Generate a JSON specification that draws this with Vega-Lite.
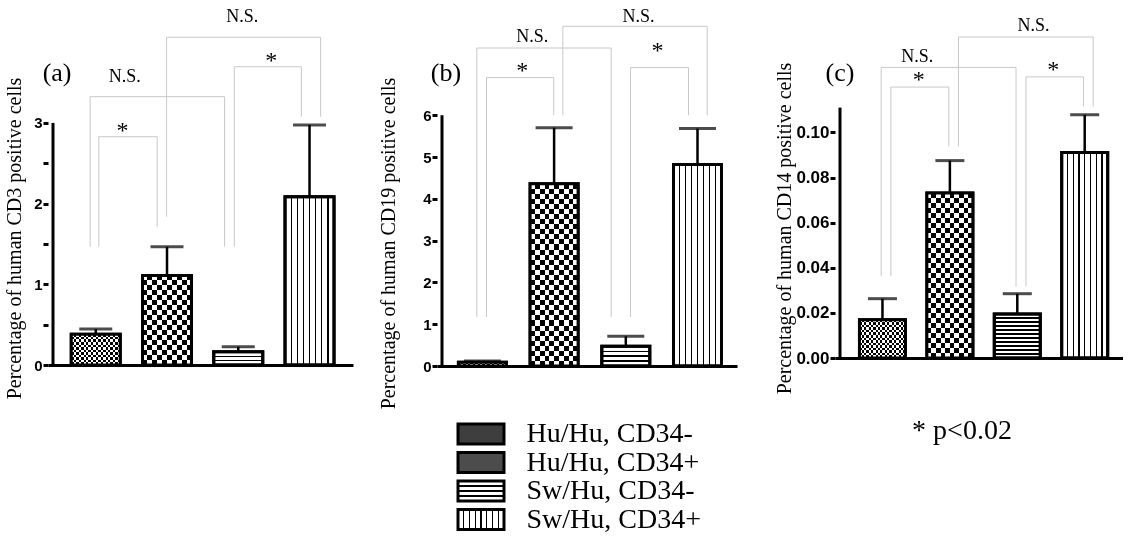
{
"$schema": "https://vega.github.io/schema/vega-lite/v6.json",
"padding": {"left": 4, "top": 0, "right": 0, "bottom": 0},
"config": {"view": {"stroke": null}, "axis": {"grid": false}},
"datasets": {
 "bars_a": [
  {"group":"Hu/Hu, CD34-","pos":1,"mean":0.38,"upper":0.445},
  {"group":"Hu/Hu, CD34+","pos":2,"mean":1.11,"upper":1.465},
  {"group":"Sw/Hu, CD34-","pos":3,"mean":0.165,"upper":0.227},
  {"group":"Sw/Hu, CD34+","pos":4,"mean":2.085,"upper":2.975}],
 "br_a": [
  {"label":"*","x1":1.043,"x2":1.862,"top":2.829,"yl":1.466,"yr":1.714,"lx":1.377,"ly":2.813},
  {"label":"N.S.","x1":0.921,"x2":2.808,"top":3.325,"yl":1.466,"yr":1.466,"lx":1.407,"ly":3.511},
  {"label":"N.S.","x1":1.994,"x2":4.156,"top":4.061,"yl":1.838,"yr":3.077,"lx":3.056,"ly":4.254},
  {"label":"*","x1":2.944,"x2":3.885,"top":3.696,"yl":1.466,"yr":3.077,"lx":3.464,"ly":3.68}],
 "bars_b": [
  {"group":"Hu/Hu, CD34-","pos":1,"mean":0.09,"upper":0.12},
  {"group":"Hu/Hu, CD34+","pos":2,"mean":4.36,"upper":5.7},
  {"group":"Sw/Hu, CD34-","pos":3,"mean":0.475,"upper":0.71},
  {"group":"Sw/Hu, CD34+","pos":4,"mean":4.82,"upper":5.68}],
 "br_b": [
  {"label":"*","x1":1.057,"x2":1.995,"top":6.9,"yl":1.172,"yr":5.998,"lx":1.555,"ly":6.89},
  {"label":"N.S.","x1":0.922,"x2":2.796,"top":7.608,"yl":1.172,"yr":1.172,"lx":1.694,"ly":7.751},
  {"label":"N.S.","x1":2.122,"x2":4.135,"top":8.127,"yl":5.998,"yr":5.998,"lx":3.177,"ly":8.23},
  {"label":"*","x1":3.066,"x2":3.875,"top":7.139,"yl":1.172,"yr":5.998,"lx":3.443,"ly":7.361}],
 "bars_c": [
  {"group":"Hu/Hu, CD34-","pos":1,"mean":0.017,"upper":0.0263},
  {"group":"Hu/Hu, CD34+","pos":2,"mean":0.0731,"upper":0.0875},
  {"group":"Sw/Hu, CD34-","pos":3,"mean":0.0195,"upper":0.0285},
  {"group":"Sw/Hu, CD34+","pos":4,"mean":0.0911,"upper":0.1078}],
 "br_c": [
  {"label":"*","x1":1.125,"x2":1.984,"top":0.1201,"yl":0.0362,"yr":0.0938,"lx":1.54,"ly":0.11995},
  {"label":"N.S.","x1":0.981,"x2":2.981,"top":0.1288,"yl":0.0362,"yr":0.0317,"lx":1.516,"ly":0.131},
  {"label":"N.S.","x1":2.127,"x2":4.126,"top":0.1423,"yl":0.0938,"yr":0.1115,"lx":3.241,"ly":0.1448},
  {"label":"*","x1":3.129,"x2":3.983,"top":0.1246,"yl":0.0317,"yr":0.1115,"lx":3.535,"ly":0.1244}],
 "tag_a": [{"tag":"(a)","lx":0.457,"ly":3.519}],
 "tag_b": [{"tag":"(b)","lx":0.492,"ly":6.818}],
 "tag_c": [{"tag":"(c)","lx":0.37,"ly":0.1229}]
},
"resolve": {"scale": {"fill": "independent"}, "legend": {"fill": "independent"}},
"spacing": 25,
"hconcat": [
 {
  "width": 305, "height": 365,
  "layer": [
   {"data": {"name": "br_a"}, "mark": {"type": "rule", "color": "#c8c8c8", "strokeWidth": 1},
    "encoding": {"x": {"field": "x1", "type": "quantitative"}, "y": {"field": "yl", "type": "quantitative"}, "y2": {"field": "top"}}},
   {"data": {"name": "br_a"}, "mark": {"type": "rule", "color": "#c8c8c8", "strokeWidth": 1},
    "encoding": {"x": {"field": "x2", "type": "quantitative"}, "y": {"field": "yr", "type": "quantitative"}, "y2": {"field": "top"}}},
   {"data": {"name": "br_a"}, "mark": {"type": "rule", "color": "#c8c8c8", "strokeWidth": 1},
    "encoding": {"x": {"field": "x1", "type": "quantitative"}, "x2": {"field": "x2"}, "y": {"field": "top", "type": "quantitative"}}},
   {"data": {"name": "bars_a"},
    "mark": {"type": "bar", "orient": "vertical", "width": 49, "stroke": "black", "strokeWidth": 3},
    "encoding": {
     "x": {"field": "pos", "type": "quantitative", "scale": {"domain": [0.4, 4.54], "nice": false, "zero": false},
           "axis": {"labels": false, "ticks": false, "title": null, "domainColor": "black", "domainWidth": 3, "grid": false}},
     "y": {"field": "mean", "type": "quantitative", "stack": null, "scale": {"domain": [0, 4.523], "nice": false},
           "axis": {"values": [0, 0.5, 1, 1.5, 2, 2.5, 3], "labelExpr": "datum.value % 1 === 0 ? format(datum.value, 'd') : ''",
                    "domain": false, "grid": false, "tickColor": "black", "tickWidth": 3, "tickSize": 5,
                    "labelFont": "Liberation Sans", "labelFontWeight": "bold", "labelFontSize": 15, "labelColor": "black", "labelPadding": 1,
                    "title": "Percentage of human CD3 positive cells", "titleFont": "Liberation Serif", "titleFontSize": 20,
                    "titleFontWeight": "normal", "titleColor": "black", "titleX": -34, "titleY": 238, "titleAngle": -90,
                    "titleBaseline": "middle", "titleAlign": "center"}},
     "fill": {"field": "group", "type": "nominal", "legend": null,
              "scale": {"domain": ["Hu/Hu, CD34-", "Hu/Hu, CD34+", "Sw/Hu, CD34-", "Sw/Hu, CD34+"],
                        "range": ["#555", "#666",
                         {"expr": "{gradient:'linear',x1:0,y1:0,x2:0,y2:1,stops:[{offset:0,color:'#fff'},{offset:0.288,color:'#fff'},{offset:0.288,color:'#000'},{offset:0.378,color:'#000'},{offset:0.378,color:'#fff'},{offset:0.622,color:'#fff'},{offset:0.622,color:'#000'},{offset:0.712,color:'#000'},{offset:0.712,color:'#fff'},{offset:1,color:'#fff'}]}"},
                         {"expr": "{gradient:'linear',x1:0,y1:0,x2:1,y2:0,stops:[{offset:0,color:'#fff'},{offset:0.112,color:'#fff'},{offset:0.112,color:'#000'},{offset:0.138,color:'#000'},{offset:0.138,color:'#fff'},{offset:0.237,color:'#fff'},{offset:0.237,color:'#000'},{offset:0.263,color:'#000'},{offset:0.263,color:'#fff'},{offset:0.362,color:'#fff'},{offset:0.362,color:'#000'},{offset:0.388,color:'#000'},{offset:0.388,color:'#fff'},{offset:0.487,color:'#fff'},{offset:0.487,color:'#000'},{offset:0.513,color:'#000'},{offset:0.513,color:'#fff'},{offset:0.612,color:'#fff'},{offset:0.612,color:'#000'},{offset:0.638,color:'#000'},{offset:0.638,color:'#fff'},{offset:0.737,color:'#fff'},{offset:0.737,color:'#000'},{offset:0.763,color:'#000'},{offset:0.763,color:'#fff'},{offset:0.862,color:'#fff'},{offset:0.862,color:'#000'},{offset:0.888,color:'#000'},{offset:0.888,color:'#fff'},{offset:1,color:'#fff'}]}"}]}}
    }},
   {"data": {"name": "bars_a"}, "transform": [{"filter": "datum.group === 'Hu/Hu, CD34-'"}],
    "mark": {"type": "bar", "orient": "vertical", "width": 49,
             "fill": {"gradient":"linear","x1":0,"y1":0,"x2":1,"y2":0,"stops":[{"offset":0,"color":"#000"},{"offset":0.05,"color":"#000"},{"offset":0.05,"color":"#fff"},{"offset":0.1,"color":"#fff"},{"offset":0.1,"color":"#000"},{"offset":0.15,"color":"#000"},{"offset":0.15,"color":"#fff"},{"offset":0.2,"color":"#fff"},{"offset":0.2,"color":"#000"},{"offset":0.25,"color":"#000"},{"offset":0.25,"color":"#fff"},{"offset":0.3,"color":"#fff"},{"offset":0.3,"color":"#000"},{"offset":0.35,"color":"#000"},{"offset":0.35,"color":"#fff"},{"offset":0.4,"color":"#fff"},{"offset":0.4,"color":"#000"},{"offset":0.45,"color":"#000"},{"offset":0.45,"color":"#fff"},{"offset":0.5,"color":"#fff"},{"offset":0.5,"color":"#000"},{"offset":0.55,"color":"#000"},{"offset":0.55,"color":"#fff"},{"offset":0.6,"color":"#fff"},{"offset":0.6,"color":"#000"},{"offset":0.65,"color":"#000"},{"offset":0.65,"color":"#fff"},{"offset":0.7,"color":"#fff"},{"offset":0.7,"color":"#000"},{"offset":0.75,"color":"#000"},{"offset":0.75,"color":"#fff"},{"offset":0.8,"color":"#fff"},{"offset":0.8,"color":"#000"},{"offset":0.85,"color":"#000"},{"offset":0.85,"color":"#fff"},{"offset":0.9,"color":"#fff"},{"offset":0.9,"color":"#000"},{"offset":0.95,"color":"#000"},{"offset":0.95,"color":"#fff"},{"offset":1,"color":"#fff"}]}},
    "encoding": {"x": {"field": "pos", "type": "quantitative"}, "y": {"field": "mean", "type": "quantitative"}}},
   {"data": {"name": "bars_a"}, "transform": [{"filter": "datum.group === 'Hu/Hu, CD34-'"}],
    "mark": {"type": "bar", "orient": "vertical", "width": 49, "blend": "difference",
             "fill": {"gradient":"linear","x1":0,"y1":0,"x2":0,"y2":1,"stops":[{"offset":0,"color":"#fff"},{"offset":0.0833,"color":"#fff"},{"offset":0.0833,"color":"#000"},{"offset":0.1667,"color":"#000"},{"offset":0.1667,"color":"#fff"},{"offset":0.25,"color":"#fff"},{"offset":0.25,"color":"#000"},{"offset":0.3333,"color":"#000"},{"offset":0.3333,"color":"#fff"},{"offset":0.4167,"color":"#fff"},{"offset":0.4167,"color":"#000"},{"offset":0.5,"color":"#000"},{"offset":0.5,"color":"#fff"},{"offset":0.5833,"color":"#fff"},{"offset":0.5833,"color":"#000"},{"offset":0.6667,"color":"#000"},{"offset":0.6667,"color":"#fff"},{"offset":0.75,"color":"#fff"},{"offset":0.75,"color":"#000"},{"offset":0.8333,"color":"#000"},{"offset":0.8333,"color":"#fff"},{"offset":0.9167,"color":"#fff"},{"offset":0.9167,"color":"#000"},{"offset":1,"color":"#000"}]}},
    "encoding": {"x": {"field": "pos", "type": "quantitative"}, "y": {"field": "mean", "type": "quantitative"}}},
   {"data": {"name": "bars_a"}, "transform": [{"filter": "datum.group === 'Hu/Hu, CD34+'"}],
    "mark": {"type": "bar", "orient": "vertical", "width": 49,
             "fill": {"gradient":"linear","x1":0,"y1":0,"x2":1,"y2":0,"stops":[{"offset":0,"color":"#000"},{"offset":0.1,"color":"#000"},{"offset":0.1,"color":"#fff"},{"offset":0.2,"color":"#fff"},{"offset":0.2,"color":"#000"},{"offset":0.3,"color":"#000"},{"offset":0.3,"color":"#fff"},{"offset":0.4,"color":"#fff"},{"offset":0.4,"color":"#000"},{"offset":0.5,"color":"#000"},{"offset":0.5,"color":"#fff"},{"offset":0.6,"color":"#fff"},{"offset":0.6,"color":"#000"},{"offset":0.7,"color":"#000"},{"offset":0.7,"color":"#fff"},{"offset":0.8,"color":"#fff"},{"offset":0.8,"color":"#000"},{"offset":0.9,"color":"#000"},{"offset":0.9,"color":"#fff"},{"offset":1,"color":"#fff"}]}},
    "encoding": {"x": {"field": "pos", "type": "quantitative"}, "y": {"field": "mean", "type": "quantitative"}}},
   {"data": {"name": "bars_a"}, "transform": [{"filter": "datum.group === 'Hu/Hu, CD34+'"}],
    "mark": {"type": "bar", "orient": "vertical", "width": 49, "blend": "difference",
             "fill": {"gradient":"linear","x1":0,"y1":0,"x2":0,"y2":1,"stops":[{"offset":0,"color":"#fff"},{"offset":0.0556,"color":"#fff"},{"offset":0.0556,"color":"#000"},{"offset":0.1111,"color":"#000"},{"offset":0.1111,"color":"#fff"},{"offset":0.1667,"color":"#fff"},{"offset":0.1667,"color":"#000"},{"offset":0.2222,"color":"#000"},{"offset":0.2222,"color":"#fff"},{"offset":0.2778,"color":"#fff"},{"offset":0.2778,"color":"#000"},{"offset":0.3333,"color":"#000"},{"offset":0.3333,"color":"#fff"},{"offset":0.3889,"color":"#fff"},{"offset":0.3889,"color":"#000"},{"offset":0.4444,"color":"#000"},{"offset":0.4444,"color":"#fff"},{"offset":0.5,"color":"#fff"},{"offset":0.5,"color":"#000"},{"offset":0.5556,"color":"#000"},{"offset":0.5556,"color":"#fff"},{"offset":0.6111,"color":"#fff"},{"offset":0.6111,"color":"#000"},{"offset":0.6667,"color":"#000"},{"offset":0.6667,"color":"#fff"},{"offset":0.7222,"color":"#fff"},{"offset":0.7222,"color":"#000"},{"offset":0.7778,"color":"#000"},{"offset":0.7778,"color":"#fff"},{"offset":0.8333,"color":"#fff"},{"offset":0.8333,"color":"#000"},{"offset":0.8889,"color":"#000"},{"offset":0.8889,"color":"#fff"},{"offset":0.9444,"color":"#fff"},{"offset":0.9444,"color":"#000"},{"offset":1,"color":"#000"}]}},
    "encoding": {"x": {"field": "pos", "type": "quantitative"}, "y": {"field": "mean", "type": "quantitative"}}},
   {"data": {"name": "bars_a"}, "mark": {"type": "rule", "color": "black", "strokeWidth": 2.5},
    "encoding": {"x": {"field": "pos", "type": "quantitative"}, "y": {"field": "mean", "type": "quantitative"}, "y2": {"field": "upper"}}},
   {"data": {"name": "bars_a"}, "mark": {"type": "tick", "orient": "horizontal", "color": "black", "size": 33, "thickness": 3},
    "encoding": {"x": {"field": "pos", "type": "quantitative"}, "y": {"field": "upper", "type": "quantitative"}}},
   {"data": {"name": "bars_a"}, "mark": {"type": "bar", "orient": "vertical", "width": 49, "fillOpacity": 0, "stroke": "black", "strokeWidth": 3},
    "encoding": {"x": {"field": "pos", "type": "quantitative"}, "y": {"field": "mean", "type": "quantitative"}}},
   {"data": {"values": [{}]}, "mark": {"type": "rule", "color": "black", "strokeWidth": 3},
    "encoding": {"x": {"datum": 0.4}, "y": {"datum": 0}, "y2": {"datum": 3}}},
   {"data": {"name": "br_a"}, "transform": [{"filter": "datum.label === 'N.S.'"}],
    "mark": {"type": "text", "font": "Liberation Serif", "fontSize": 18, "color": "black", "align": "center", "baseline": "alphabetic"},
    "encoding": {"x": {"field": "lx", "type": "quantitative"}, "y": {"field": "ly", "type": "quantitative"}, "text": {"field": "label"}}},
   {"data": {"name": "br_a"}, "transform": [{"filter": "datum.label === '*'"}],
    "mark": {"type": "text", "font": "Liberation Serif", "fontSize": 24, "color": "black", "align": "center", "baseline": "alphabetic"},
    "encoding": {"x": {"field": "lx", "type": "quantitative"}, "y": {"field": "ly", "type": "quantitative"}, "text": {"field": "label"}}},
   {"data": {"name": "tag_a"},
    "mark": {"type": "text", "font": "Liberation Serif", "fontSize": 26, "color": "black", "align": "center", "baseline": "alphabetic"},
    "encoding": {"x": {"field": "lx", "type": "quantitative"}, "y": {"field": "ly", "type": "quantitative"}, "text": {"field": "tag"}}}
  ]
 },
 {
  "spacing": 37,
  "resolve": {"scale": {"fill": "independent"}, "legend": {"fill": "independent"}},
  "hconcat": [
   {
    "width": 300, "height": 366,
    "layer": [
     {"data": {"name": "br_b"}, "mark": {"type": "rule", "color": "#c8c8c8", "strokeWidth": 1},
      "encoding": {"x": {"field": "x1", "type": "quantitative"}, "y": {"field": "yl", "type": "quantitative"}, "y2": {"field": "top"}}},
     {"data": {"name": "br_b"}, "mark": {"type": "rule", "color": "#c8c8c8", "strokeWidth": 1},
      "encoding": {"x": {"field": "x2", "type": "quantitative"}, "y": {"field": "yr", "type": "quantitative"}, "y2": {"field": "top"}}},
     {"data": {"name": "br_b"}, "mark": {"type": "rule", "color": "#c8c8c8", "strokeWidth": 1},
      "encoding": {"x": {"field": "x1", "type": "quantitative"}, "x2": {"field": "x2"}, "y": {"field": "top", "type": "quantitative"}}},
     {"data": {"name": "bars_b"},
      "mark": {"type": "bar", "orient": "vertical", "width": 48, "stroke": "black", "strokeWidth": 3},
      "encoding": {
       "x": {"field": "pos", "type": "quantitative", "scale": {"domain": [0.4364, 4.4812], "nice": false, "zero": false},
             "axis": {"labels": false, "ticks": false, "title": null, "domainColor": "black", "domainWidth": 3, "grid": false}},
       "y": {"field": "mean", "type": "quantitative", "stack": null, "scale": {"domain": [0, 8.756], "nice": false},
             "axis": {"values": [0, 1, 2, 3, 4, 5, 6], "format": "d",
                      "domain": false, "grid": false, "tickColor": "black", "tickWidth": 3, "tickSize": 5,
                      "labelFont": "Liberation Sans", "labelFontWeight": "bold", "labelFontSize": 15, "labelColor": "black", "labelPadding": 1,
                      "title": "Percentage of human CD19 positive cells", "titleFont": "Liberation Serif", "titleFontSize": 20,
                      "titleFontWeight": "normal", "titleColor": "black", "titleX": -49, "titleY": 243, "titleAngle": -90,
                      "titleBaseline": "middle", "titleAlign": "center"}},
       "fill": {"field": "group", "type": "nominal",
                "legend": {"orient": "none", "legendX": 18.5, "legendY": 421, "title": null, "direction": "vertical",
                           "symbolType": "M-1,-0.87H3V0.87H-1Z", "symbolSize": 529, "symbolStrokeColor": "black", "symbolStrokeWidth": 3,
                           "labelFont": "Liberation Serif", "labelFontSize": 28, "labelColor": "black", "labelLimit": 0,
                           "labelOffset": 43, "clipHeight": 26, "rowPadding": 0.5, "padding": 0},
                "scale": {"domain": ["Hu/Hu, CD34-", "Hu/Hu, CD34+", "Sw/Hu, CD34-", "Sw/Hu, CD34+"],
                          "range": ["#3e3e3e", "#4c4c4c",
                           {"expr": "{gradient:'linear',x1:0,y1:0,x2:0,y2:1,stops:[{offset:0,color:'#fff'},{offset:0.22,color:'#fff'},{offset:0.22,color:'#000'},{offset:0.28,color:'#000'},{offset:0.28,color:'#fff'},{offset:0.47,color:'#fff'},{offset:0.47,color:'#000'},{offset:0.53,color:'#000'},{offset:0.53,color:'#fff'},{offset:0.72,color:'#fff'},{offset:0.72,color:'#000'},{offset:0.78,color:'#000'},{offset:0.78,color:'#fff'},{offset:1,color:'#fff'}]}"},
                           {"expr": "{gradient:'linear',x1:0,y1:0,x2:1,y2:0,stops:[{offset:0,color:'#fff'},{offset:0.112,color:'#fff'},{offset:0.112,color:'#000'},{offset:0.138,color:'#000'},{offset:0.138,color:'#fff'},{offset:0.237,color:'#fff'},{offset:0.237,color:'#000'},{offset:0.263,color:'#000'},{offset:0.263,color:'#fff'},{offset:0.362,color:'#fff'},{offset:0.362,color:'#000'},{offset:0.388,color:'#000'},{offset:0.388,color:'#fff'},{offset:0.487,color:'#fff'},{offset:0.487,color:'#000'},{offset:0.513,color:'#000'},{offset:0.513,color:'#fff'},{offset:0.612,color:'#fff'},{offset:0.612,color:'#000'},{offset:0.638,color:'#000'},{offset:0.638,color:'#fff'},{offset:0.737,color:'#fff'},{offset:0.737,color:'#000'},{offset:0.763,color:'#000'},{offset:0.763,color:'#fff'},{offset:0.862,color:'#fff'},{offset:0.862,color:'#000'},{offset:0.888,color:'#000'},{offset:0.888,color:'#fff'},{offset:1,color:'#fff'}]}"}]}}
      }},
     {"data": {"name": "bars_b"}, "transform": [{"filter": "datum.group === 'Hu/Hu, CD34-'"}],
      "mark": {"type": "bar", "orient": "vertical", "width": 48,
               "fill": {"gradient":"linear","x1":0,"y1":0,"x2":1,"y2":0,"stops":[{"offset":0,"color":"#000"},{"offset":0.05,"color":"#000"},{"offset":0.05,"color":"#fff"},{"offset":0.1,"color":"#fff"},{"offset":0.1,"color":"#000"},{"offset":0.15,"color":"#000"},{"offset":0.15,"color":"#fff"},{"offset":0.2,"color":"#fff"},{"offset":0.2,"color":"#000"},{"offset":0.25,"color":"#000"},{"offset":0.25,"color":"#fff"},{"offset":0.3,"color":"#fff"},{"offset":0.3,"color":"#000"},{"offset":0.35,"color":"#000"},{"offset":0.35,"color":"#fff"},{"offset":0.4,"color":"#fff"},{"offset":0.4,"color":"#000"},{"offset":0.45,"color":"#000"},{"offset":0.45,"color":"#fff"},{"offset":0.5,"color":"#fff"},{"offset":0.5,"color":"#000"},{"offset":0.55,"color":"#000"},{"offset":0.55,"color":"#fff"},{"offset":0.6,"color":"#fff"},{"offset":0.6,"color":"#000"},{"offset":0.65,"color":"#000"},{"offset":0.65,"color":"#fff"},{"offset":0.7,"color":"#fff"},{"offset":0.7,"color":"#000"},{"offset":0.75,"color":"#000"},{"offset":0.75,"color":"#fff"},{"offset":0.8,"color":"#fff"},{"offset":0.8,"color":"#000"},{"offset":0.85,"color":"#000"},{"offset":0.85,"color":"#fff"},{"offset":0.9,"color":"#fff"},{"offset":0.9,"color":"#000"},{"offset":0.95,"color":"#000"},{"offset":0.95,"color":"#fff"},{"offset":1,"color":"#fff"}]}},
      "encoding": {"x": {"field": "pos", "type": "quantitative"}, "y": {"field": "mean", "type": "quantitative"}}},
     {"data": {"name": "bars_b"}, "transform": [{"filter": "datum.group === 'Hu/Hu, CD34-'"}],
      "mark": {"type": "bar", "orient": "vertical", "width": 48, "blend": "difference",
               "fill": {"gradient":"linear","x1":0,"y1":0,"x2":0,"y2":1,"stops":[{"offset":0,"color":"#fff"},{"offset":0.5,"color":"#fff"},{"offset":0.5,"color":"#000"},{"offset":1,"color":"#000"}]}},
      "encoding": {"x": {"field": "pos", "type": "quantitative"}, "y": {"field": "mean", "type": "quantitative"}}},
     {"data": {"name": "bars_b"}, "transform": [{"filter": "datum.group === 'Hu/Hu, CD34+'"}],
      "mark": {"type": "bar", "orient": "vertical", "width": 48,
               "fill": {"gradient":"linear","x1":0,"y1":0,"x2":1,"y2":0,"stops":[{"offset":0,"color":"#000"},{"offset":0.1,"color":"#000"},{"offset":0.1,"color":"#fff"},{"offset":0.2,"color":"#fff"},{"offset":0.2,"color":"#000"},{"offset":0.3,"color":"#000"},{"offset":0.3,"color":"#fff"},{"offset":0.4,"color":"#fff"},{"offset":0.4,"color":"#000"},{"offset":0.5,"color":"#000"},{"offset":0.5,"color":"#fff"},{"offset":0.6,"color":"#fff"},{"offset":0.6,"color":"#000"},{"offset":0.7,"color":"#000"},{"offset":0.7,"color":"#fff"},{"offset":0.8,"color":"#fff"},{"offset":0.8,"color":"#000"},{"offset":0.9,"color":"#000"},{"offset":0.9,"color":"#fff"},{"offset":1,"color":"#fff"}]}},
      "encoding": {"x": {"field": "pos", "type": "quantitative"}, "y": {"field": "mean", "type": "quantitative"}}},
     {"data": {"name": "bars_b"}, "transform": [{"filter": "datum.group === 'Hu/Hu, CD34+'"}],
      "mark": {"type": "bar", "orient": "vertical", "width": 48, "blend": "difference",
               "fill": {"gradient":"linear","x1":0,"y1":0,"x2":0,"y2":1,"stops":[{"offset":0,"color":"#fff"},{"offset":0.0278,"color":"#fff"},{"offset":0.0278,"color":"#000"},{"offset":0.0556,"color":"#000"},{"offset":0.0556,"color":"#fff"},{"offset":0.0833,"color":"#fff"},{"offset":0.0833,"color":"#000"},{"offset":0.1111,"color":"#000"},{"offset":0.1111,"color":"#fff"},{"offset":0.1389,"color":"#fff"},{"offset":0.1389,"color":"#000"},{"offset":0.1667,"color":"#000"},{"offset":0.1667,"color":"#fff"},{"offset":0.1944,"color":"#fff"},{"offset":0.1944,"color":"#000"},{"offset":0.2222,"color":"#000"},{"offset":0.2222,"color":"#fff"},{"offset":0.25,"color":"#fff"},{"offset":0.25,"color":"#000"},{"offset":0.2778,"color":"#000"},{"offset":0.2778,"color":"#fff"},{"offset":0.3056,"color":"#fff"},{"offset":0.3056,"color":"#000"},{"offset":0.3333,"color":"#000"},{"offset":0.3333,"color":"#fff"},{"offset":0.3611,"color":"#fff"},{"offset":0.3611,"color":"#000"},{"offset":0.3889,"color":"#000"},{"offset":0.3889,"color":"#fff"},{"offset":0.4167,"color":"#fff"},{"offset":0.4167,"color":"#000"},{"offset":0.4444,"color":"#000"},{"offset":0.4444,"color":"#fff"},{"offset":0.4722,"color":"#fff"},{"offset":0.4722,"color":"#000"},{"offset":0.5,"color":"#000"},{"offset":0.5,"color":"#fff"},{"offset":0.5278,"color":"#fff"},{"offset":0.5278,"color":"#000"},{"offset":0.5556,"color":"#000"},{"offset":0.5556,"color":"#fff"},{"offset":0.5833,"color":"#fff"},{"offset":0.5833,"color":"#000"},{"offset":0.6111,"color":"#000"},{"offset":0.6111,"color":"#fff"},{"offset":0.6389,"color":"#fff"},{"offset":0.6389,"color":"#000"},{"offset":0.6667,"color":"#000"},{"offset":0.6667,"color":"#fff"},{"offset":0.6944,"color":"#fff"},{"offset":0.6944,"color":"#000"},{"offset":0.7222,"color":"#000"},{"offset":0.7222,"color":"#fff"},{"offset":0.75,"color":"#fff"},{"offset":0.75,"color":"#000"},{"offset":0.7778,"color":"#000"},{"offset":0.7778,"color":"#fff"},{"offset":0.8056,"color":"#fff"},{"offset":0.8056,"color":"#000"},{"offset":0.8333,"color":"#000"},{"offset":0.8333,"color":"#fff"},{"offset":0.8611,"color":"#fff"},{"offset":0.8611,"color":"#000"},{"offset":0.8889,"color":"#000"},{"offset":0.8889,"color":"#fff"},{"offset":0.9167,"color":"#fff"},{"offset":0.9167,"color":"#000"},{"offset":0.9444,"color":"#000"},{"offset":0.9444,"color":"#fff"},{"offset":0.9722,"color":"#fff"},{"offset":0.9722,"color":"#000"},{"offset":1,"color":"#000"}]}},
      "encoding": {"x": {"field": "pos", "type": "quantitative"}, "y": {"field": "mean", "type": "quantitative"}}},
     {"data": {"name": "bars_b"}, "mark": {"type": "rule", "color": "black", "strokeWidth": 2.5},
      "encoding": {"x": {"field": "pos", "type": "quantitative"}, "y": {"field": "mean", "type": "quantitative"}, "y2": {"field": "upper"}}},
     {"data": {"name": "bars_b"}, "mark": {"type": "tick", "orient": "horizontal", "color": "black", "size": 37, "thickness": 3},
      "encoding": {"x": {"field": "pos", "type": "quantitative"}, "y": {"field": "upper", "type": "quantitative"}}},
     {"data": {"name": "bars_b"}, "mark": {"type": "bar", "orient": "vertical", "width": 48, "fillOpacity": 0, "stroke": "black", "strokeWidth": 3},
      "encoding": {"x": {"field": "pos", "type": "quantitative"}, "y": {"field": "mean", "type": "quantitative"}}},
     {"data": {"values": [{}]}, "mark": {"type": "rule", "color": "black", "strokeWidth": 3},
      "encoding": {"x": {"datum": 0.4364}, "y": {"datum": 0}, "y2": {"datum": 6}}},
     {"data": {"name": "br_b"}, "transform": [{"filter": "datum.label === 'N.S.'"}],
      "mark": {"type": "text", "font": "Liberation Serif", "fontSize": 18, "color": "black", "align": "center", "baseline": "alphabetic"},
      "encoding": {"x": {"field": "lx", "type": "quantitative"}, "y": {"field": "ly", "type": "quantitative"}, "text": {"field": "label"}}},
     {"data": {"name": "br_b"}, "transform": [{"filter": "datum.label === '*'"}],
      "mark": {"type": "text", "font": "Liberation Serif", "fontSize": 24, "color": "black", "align": "center", "baseline": "alphabetic"},
      "encoding": {"x": {"field": "lx", "type": "quantitative"}, "y": {"field": "ly", "type": "quantitative"}, "text": {"field": "label"}}},
     {"data": {"name": "tag_b"},
      "mark": {"type": "text", "font": "Liberation Serif", "fontSize": 26, "color": "black", "align": "center", "baseline": "alphabetic"},
      "encoding": {"x": {"field": "lx", "type": "quantitative"}, "y": {"field": "ly", "type": "quantitative"}, "text": {"field": "tag"}}}
    ]
   },
   {
    "width": 288, "height": 358,
    "title": {"text": "* p<0.02", "orient": "bottom", "anchor": "middle", "font": "Liberation Serif", "fontSize": 28,
              "fontWeight": "normal", "color": "black", "offset": 23, "dx": -17},
    "layer": [
     {"data": {"name": "br_c"}, "mark": {"type": "rule", "color": "#c8c8c8", "strokeWidth": 1},
      "encoding": {"x": {"field": "x1", "type": "quantitative"}, "y": {"field": "yl", "type": "quantitative"}, "y2": {"field": "top"}}},
     {"data": {"name": "br_c"}, "mark": {"type": "rule", "color": "#c8c8c8", "strokeWidth": 1},
      "encoding": {"x": {"field": "x2", "type": "quantitative"}, "y": {"field": "yr", "type": "quantitative"}, "y2": {"field": "top"}}},
     {"data": {"name": "br_c"}, "mark": {"type": "rule", "color": "#c8c8c8", "strokeWidth": 1},
      "encoding": {"x": {"field": "x1", "type": "quantitative"}, "x2": {"field": "x2"}, "y": {"field": "top", "type": "quantitative"}}},
     {"data": {"name": "bars_c"},
      "mark": {"type": "bar", "orient": "vertical", "width": 46, "stroke": "black", "strokeWidth": 3},
      "encoding": {
       "x": {"field": "pos", "type": "quantitative", "scale": {"domain": [0.37, 4.494], "nice": false, "zero": false},
             "axis": {"labels": false, "ticks": false, "title": null, "domainColor": "black", "domainWidth": 3, "grid": false}},
       "y": {"field": "mean", "type": "quantitative", "stack": null, "scale": {"domain": [0, 0.15869], "nice": false},
             "axis": {"values": [0, 0.02, 0.04, 0.06, 0.08, 0.1], "format": ".2f",
                      "domain": false, "grid": false, "tickColor": "black", "tickWidth": 3, "tickSize": 5,
                      "labelFont": "Liberation Sans", "labelFontWeight": "bold", "labelFontSize": 17, "labelColor": "black", "labelPadding": 1,
                      "title": "Percentage of human CD14 positive cells", "titleFont": "Liberation Serif", "titleFontSize": 20,
                      "titleFontWeight": "normal", "titleColor": "black", "titleX": -51, "titleY": 228, "titleAngle": -90,
                      "titleBaseline": "middle", "titleAlign": "center"}},
       "fill": {"field": "group", "type": "nominal", "legend": null,
                "scale": {"domain": ["Hu/Hu, CD34-", "Hu/Hu, CD34+", "Sw/Hu, CD34-", "Sw/Hu, CD34+"],
                          "range": ["#555", "#666",
                           {"expr": "{gradient:'linear',x1:0,y1:0,x2:0,y2:1,stops:[{offset:0,color:'#fff'},{offset:0.077,color:'#fff'},{offset:0.077,color:'#000'},{offset:0.105,color:'#000'},{offset:0.105,color:'#fff'},{offset:0.168,color:'#fff'},{offset:0.168,color:'#000'},{offset:0.196,color:'#000'},{offset:0.196,color:'#fff'},{offset:0.259,color:'#fff'},{offset:0.259,color:'#000'},{offset:0.287,color:'#000'},{offset:0.287,color:'#fff'},{offset:0.35,color:'#fff'},{offset:0.35,color:'#000'},{offset:0.378,color:'#000'},{offset:0.378,color:'#fff'},{offset:0.441,color:'#fff'},{offset:0.441,color:'#000'},{offset:0.469,color:'#000'},{offset:0.469,color:'#fff'},{offset:0.531,color:'#fff'},{offset:0.531,color:'#000'},{offset:0.559,color:'#000'},{offset:0.559,color:'#fff'},{offset:0.622,color:'#fff'},{offset:0.622,color:'#000'},{offset:0.65,color:'#000'},{offset:0.65,color:'#fff'},{offset:0.713,color:'#fff'},{offset:0.713,color:'#000'},{offset:0.741,color:'#000'},{offset:0.741,color:'#fff'},{offset:0.804,color:'#fff'},{offset:0.804,color:'#000'},{offset:0.832,color:'#000'},{offset:0.832,color:'#fff'},{offset:0.895,color:'#fff'},{offset:0.895,color:'#000'},{offset:0.923,color:'#000'},{offset:0.923,color:'#fff'},{offset:1,color:'#fff'}]}"},
                           {"expr": "{gradient:'linear',x1:0,y1:0,x2:1,y2:0,stops:[{offset:0,color:'#fff'},{offset:0.112,color:'#fff'},{offset:0.112,color:'#000'},{offset:0.138,color:'#000'},{offset:0.138,color:'#fff'},{offset:0.237,color:'#fff'},{offset:0.237,color:'#000'},{offset:0.263,color:'#000'},{offset:0.263,color:'#fff'},{offset:0.362,color:'#fff'},{offset:0.362,color:'#000'},{offset:0.388,color:'#000'},{offset:0.388,color:'#fff'},{offset:0.487,color:'#fff'},{offset:0.487,color:'#000'},{offset:0.513,color:'#000'},{offset:0.513,color:'#fff'},{offset:0.612,color:'#fff'},{offset:0.612,color:'#000'},{offset:0.638,color:'#000'},{offset:0.638,color:'#fff'},{offset:0.737,color:'#fff'},{offset:0.737,color:'#000'},{offset:0.763,color:'#000'},{offset:0.763,color:'#fff'},{offset:0.862,color:'#fff'},{offset:0.862,color:'#000'},{offset:0.888,color:'#000'},{offset:0.888,color:'#fff'},{offset:1,color:'#fff'}]}"}]}}
      }},
     {"data": {"name": "bars_c"}, "transform": [{"filter": "datum.group === 'Hu/Hu, CD34-'"}],
      "mark": {"type": "bar", "orient": "vertical", "width": 46,
               "fill": {"gradient":"linear","x1":0,"y1":0,"x2":1,"y2":0,"stops":[{"offset":0,"color":"#000"},{"offset":0.05,"color":"#000"},{"offset":0.05,"color":"#fff"},{"offset":0.1,"color":"#fff"},{"offset":0.1,"color":"#000"},{"offset":0.15,"color":"#000"},{"offset":0.15,"color":"#fff"},{"offset":0.2,"color":"#fff"},{"offset":0.2,"color":"#000"},{"offset":0.25,"color":"#000"},{"offset":0.25,"color":"#fff"},{"offset":0.3,"color":"#fff"},{"offset":0.3,"color":"#000"},{"offset":0.35,"color":"#000"},{"offset":0.35,"color":"#fff"},{"offset":0.4,"color":"#fff"},{"offset":0.4,"color":"#000"},{"offset":0.45,"color":"#000"},{"offset":0.45,"color":"#fff"},{"offset":0.5,"color":"#fff"},{"offset":0.5,"color":"#000"},{"offset":0.55,"color":"#000"},{"offset":0.55,"color":"#fff"},{"offset":0.6,"color":"#fff"},{"offset":0.6,"color":"#000"},{"offset":0.65,"color":"#000"},{"offset":0.65,"color":"#fff"},{"offset":0.7,"color":"#fff"},{"offset":0.7,"color":"#000"},{"offset":0.75,"color":"#000"},{"offset":0.75,"color":"#fff"},{"offset":0.8,"color":"#fff"},{"offset":0.8,"color":"#000"},{"offset":0.85,"color":"#000"},{"offset":0.85,"color":"#fff"},{"offset":0.9,"color":"#fff"},{"offset":0.9,"color":"#000"},{"offset":0.95,"color":"#000"},{"offset":0.95,"color":"#fff"},{"offset":1,"color":"#fff"}]}},
      "encoding": {"x": {"field": "pos", "type": "quantitative"}, "y": {"field": "mean", "type": "quantitative"}}},
     {"data": {"name": "bars_c"}, "transform": [{"filter": "datum.group === 'Hu/Hu, CD34-'"}],
      "mark": {"type": "bar", "orient": "vertical", "width": 46, "blend": "difference",
               "fill": {"gradient":"linear","x1":0,"y1":0,"x2":0,"y2":1,"stops":[{"offset":0,"color":"#fff"},{"offset":0.0667,"color":"#fff"},{"offset":0.0667,"color":"#000"},{"offset":0.1333,"color":"#000"},{"offset":0.1333,"color":"#fff"},{"offset":0.2,"color":"#fff"},{"offset":0.2,"color":"#000"},{"offset":0.2667,"color":"#000"},{"offset":0.2667,"color":"#fff"},{"offset":0.3333,"color":"#fff"},{"offset":0.3333,"color":"#000"},{"offset":0.4,"color":"#000"},{"offset":0.4,"color":"#fff"},{"offset":0.4667,"color":"#fff"},{"offset":0.4667,"color":"#000"},{"offset":0.5333,"color":"#000"},{"offset":0.5333,"color":"#fff"},{"offset":0.6,"color":"#fff"},{"offset":0.6,"color":"#000"},{"offset":0.6667,"color":"#000"},{"offset":0.6667,"color":"#fff"},{"offset":0.7333,"color":"#fff"},{"offset":0.7333,"color":"#000"},{"offset":0.8,"color":"#000"},{"offset":0.8,"color":"#fff"},{"offset":0.8667,"color":"#fff"},{"offset":0.8667,"color":"#000"},{"offset":0.9333,"color":"#000"},{"offset":0.9333,"color":"#fff"},{"offset":1,"color":"#fff"}]}},
      "encoding": {"x": {"field": "pos", "type": "quantitative"}, "y": {"field": "mean", "type": "quantitative"}}},
     {"data": {"name": "bars_c"}, "transform": [{"filter": "datum.group === 'Hu/Hu, CD34+'"}],
      "mark": {"type": "bar", "orient": "vertical", "width": 46,
               "fill": {"gradient":"linear","x1":0,"y1":0,"x2":1,"y2":0,"stops":[{"offset":0,"color":"#000"},{"offset":0.1,"color":"#000"},{"offset":0.1,"color":"#fff"},{"offset":0.2,"color":"#fff"},{"offset":0.2,"color":"#000"},{"offset":0.3,"color":"#000"},{"offset":0.3,"color":"#fff"},{"offset":0.4,"color":"#fff"},{"offset":0.4,"color":"#000"},{"offset":0.5,"color":"#000"},{"offset":0.5,"color":"#fff"},{"offset":0.6,"color":"#fff"},{"offset":0.6,"color":"#000"},{"offset":0.7,"color":"#000"},{"offset":0.7,"color":"#fff"},{"offset":0.8,"color":"#fff"},{"offset":0.8,"color":"#000"},{"offset":0.9,"color":"#000"},{"offset":0.9,"color":"#fff"},{"offset":1,"color":"#fff"}]}},
      "encoding": {"x": {"field": "pos", "type": "quantitative"}, "y": {"field": "mean", "type": "quantitative"}}},
     {"data": {"name": "bars_c"}, "transform": [{"filter": "datum.group === 'Hu/Hu, CD34+'"}],
      "mark": {"type": "bar", "orient": "vertical", "width": 46, "blend": "difference",
               "fill": {"gradient":"linear","x1":0,"y1":0,"x2":0,"y2":1,"stops":[{"offset":0,"color":"#fff"},{"offset":0.0303,"color":"#fff"},{"offset":0.0303,"color":"#000"},{"offset":0.0606,"color":"#000"},{"offset":0.0606,"color":"#fff"},{"offset":0.0909,"color":"#fff"},{"offset":0.0909,"color":"#000"},{"offset":0.1212,"color":"#000"},{"offset":0.1212,"color":"#fff"},{"offset":0.1515,"color":"#fff"},{"offset":0.1515,"color":"#000"},{"offset":0.1818,"color":"#000"},{"offset":0.1818,"color":"#fff"},{"offset":0.2121,"color":"#fff"},{"offset":0.2121,"color":"#000"},{"offset":0.2424,"color":"#000"},{"offset":0.2424,"color":"#fff"},{"offset":0.2727,"color":"#fff"},{"offset":0.2727,"color":"#000"},{"offset":0.303,"color":"#000"},{"offset":0.303,"color":"#fff"},{"offset":0.3333,"color":"#fff"},{"offset":0.3333,"color":"#000"},{"offset":0.3636,"color":"#000"},{"offset":0.3636,"color":"#fff"},{"offset":0.3939,"color":"#fff"},{"offset":0.3939,"color":"#000"},{"offset":0.4242,"color":"#000"},{"offset":0.4242,"color":"#fff"},{"offset":0.4545,"color":"#fff"},{"offset":0.4545,"color":"#000"},{"offset":0.4848,"color":"#000"},{"offset":0.4848,"color":"#fff"},{"offset":0.5152,"color":"#fff"},{"offset":0.5152,"color":"#000"},{"offset":0.5455,"color":"#000"},{"offset":0.5455,"color":"#fff"},{"offset":0.5758,"color":"#fff"},{"offset":0.5758,"color":"#000"},{"offset":0.6061,"color":"#000"},{"offset":0.6061,"color":"#fff"},{"offset":0.6364,"color":"#fff"},{"offset":0.6364,"color":"#000"},{"offset":0.6667,"color":"#000"},{"offset":0.6667,"color":"#fff"},{"offset":0.697,"color":"#fff"},{"offset":0.697,"color":"#000"},{"offset":0.7273,"color":"#000"},{"offset":0.7273,"color":"#fff"},{"offset":0.7576,"color":"#fff"},{"offset":0.7576,"color":"#000"},{"offset":0.7879,"color":"#000"},{"offset":0.7879,"color":"#fff"},{"offset":0.8182,"color":"#fff"},{"offset":0.8182,"color":"#000"},{"offset":0.8485,"color":"#000"},{"offset":0.8485,"color":"#fff"},{"offset":0.8788,"color":"#fff"},{"offset":0.8788,"color":"#000"},{"offset":0.9091,"color":"#000"},{"offset":0.9091,"color":"#fff"},{"offset":0.9394,"color":"#fff"},{"offset":0.9394,"color":"#000"},{"offset":0.9697,"color":"#000"},{"offset":0.9697,"color":"#fff"},{"offset":1,"color":"#fff"}]}},
      "encoding": {"x": {"field": "pos", "type": "quantitative"}, "y": {"field": "mean", "type": "quantitative"}}},
     {"data": {"name": "bars_c"}, "mark": {"type": "rule", "color": "black", "strokeWidth": 2.5},
      "encoding": {"x": {"field": "pos", "type": "quantitative"}, "y": {"field": "mean", "type": "quantitative"}, "y2": {"field": "upper"}}},
     {"data": {"name": "bars_c"}, "mark": {"type": "tick", "orient": "horizontal", "color": "black", "size": 29, "thickness": 3},
      "encoding": {"x": {"field": "pos", "type": "quantitative"}, "y": {"field": "upper", "type": "quantitative"}}},
     {"data": {"name": "bars_c"}, "mark": {"type": "bar", "orient": "vertical", "width": 46, "fillOpacity": 0, "stroke": "black", "strokeWidth": 3},
      "encoding": {"x": {"field": "pos", "type": "quantitative"}, "y": {"field": "mean", "type": "quantitative"}}},
     {"data": {"values": [{}]}, "mark": {"type": "rule", "color": "black", "strokeWidth": 3},
      "encoding": {"x": {"datum": 0.37}, "y": {"datum": 0}, "y2": {"datum": 0.111}}},
     {"data": {"name": "br_c"}, "transform": [{"filter": "datum.label === 'N.S.'"}],
      "mark": {"type": "text", "font": "Liberation Serif", "fontSize": 18, "color": "black", "align": "center", "baseline": "alphabetic"},
      "encoding": {"x": {"field": "lx", "type": "quantitative"}, "y": {"field": "ly", "type": "quantitative"}, "text": {"field": "label"}}},
     {"data": {"name": "br_c"}, "transform": [{"filter": "datum.label === '*'"}],
      "mark": {"type": "text", "font": "Liberation Serif", "fontSize": 24, "color": "black", "align": "center", "baseline": "alphabetic"},
      "encoding": {"x": {"field": "lx", "type": "quantitative"}, "y": {"field": "ly", "type": "quantitative"}, "text": {"field": "label"}}},
     {"data": {"name": "tag_c"},
      "mark": {"type": "text", "font": "Liberation Serif", "fontSize": 26, "color": "black", "align": "center", "baseline": "alphabetic"},
      "encoding": {"x": {"field": "lx", "type": "quantitative"}, "y": {"field": "ly", "type": "quantitative"}, "text": {"field": "tag"}}}
    ]
   }
  ]
 }
]
}
